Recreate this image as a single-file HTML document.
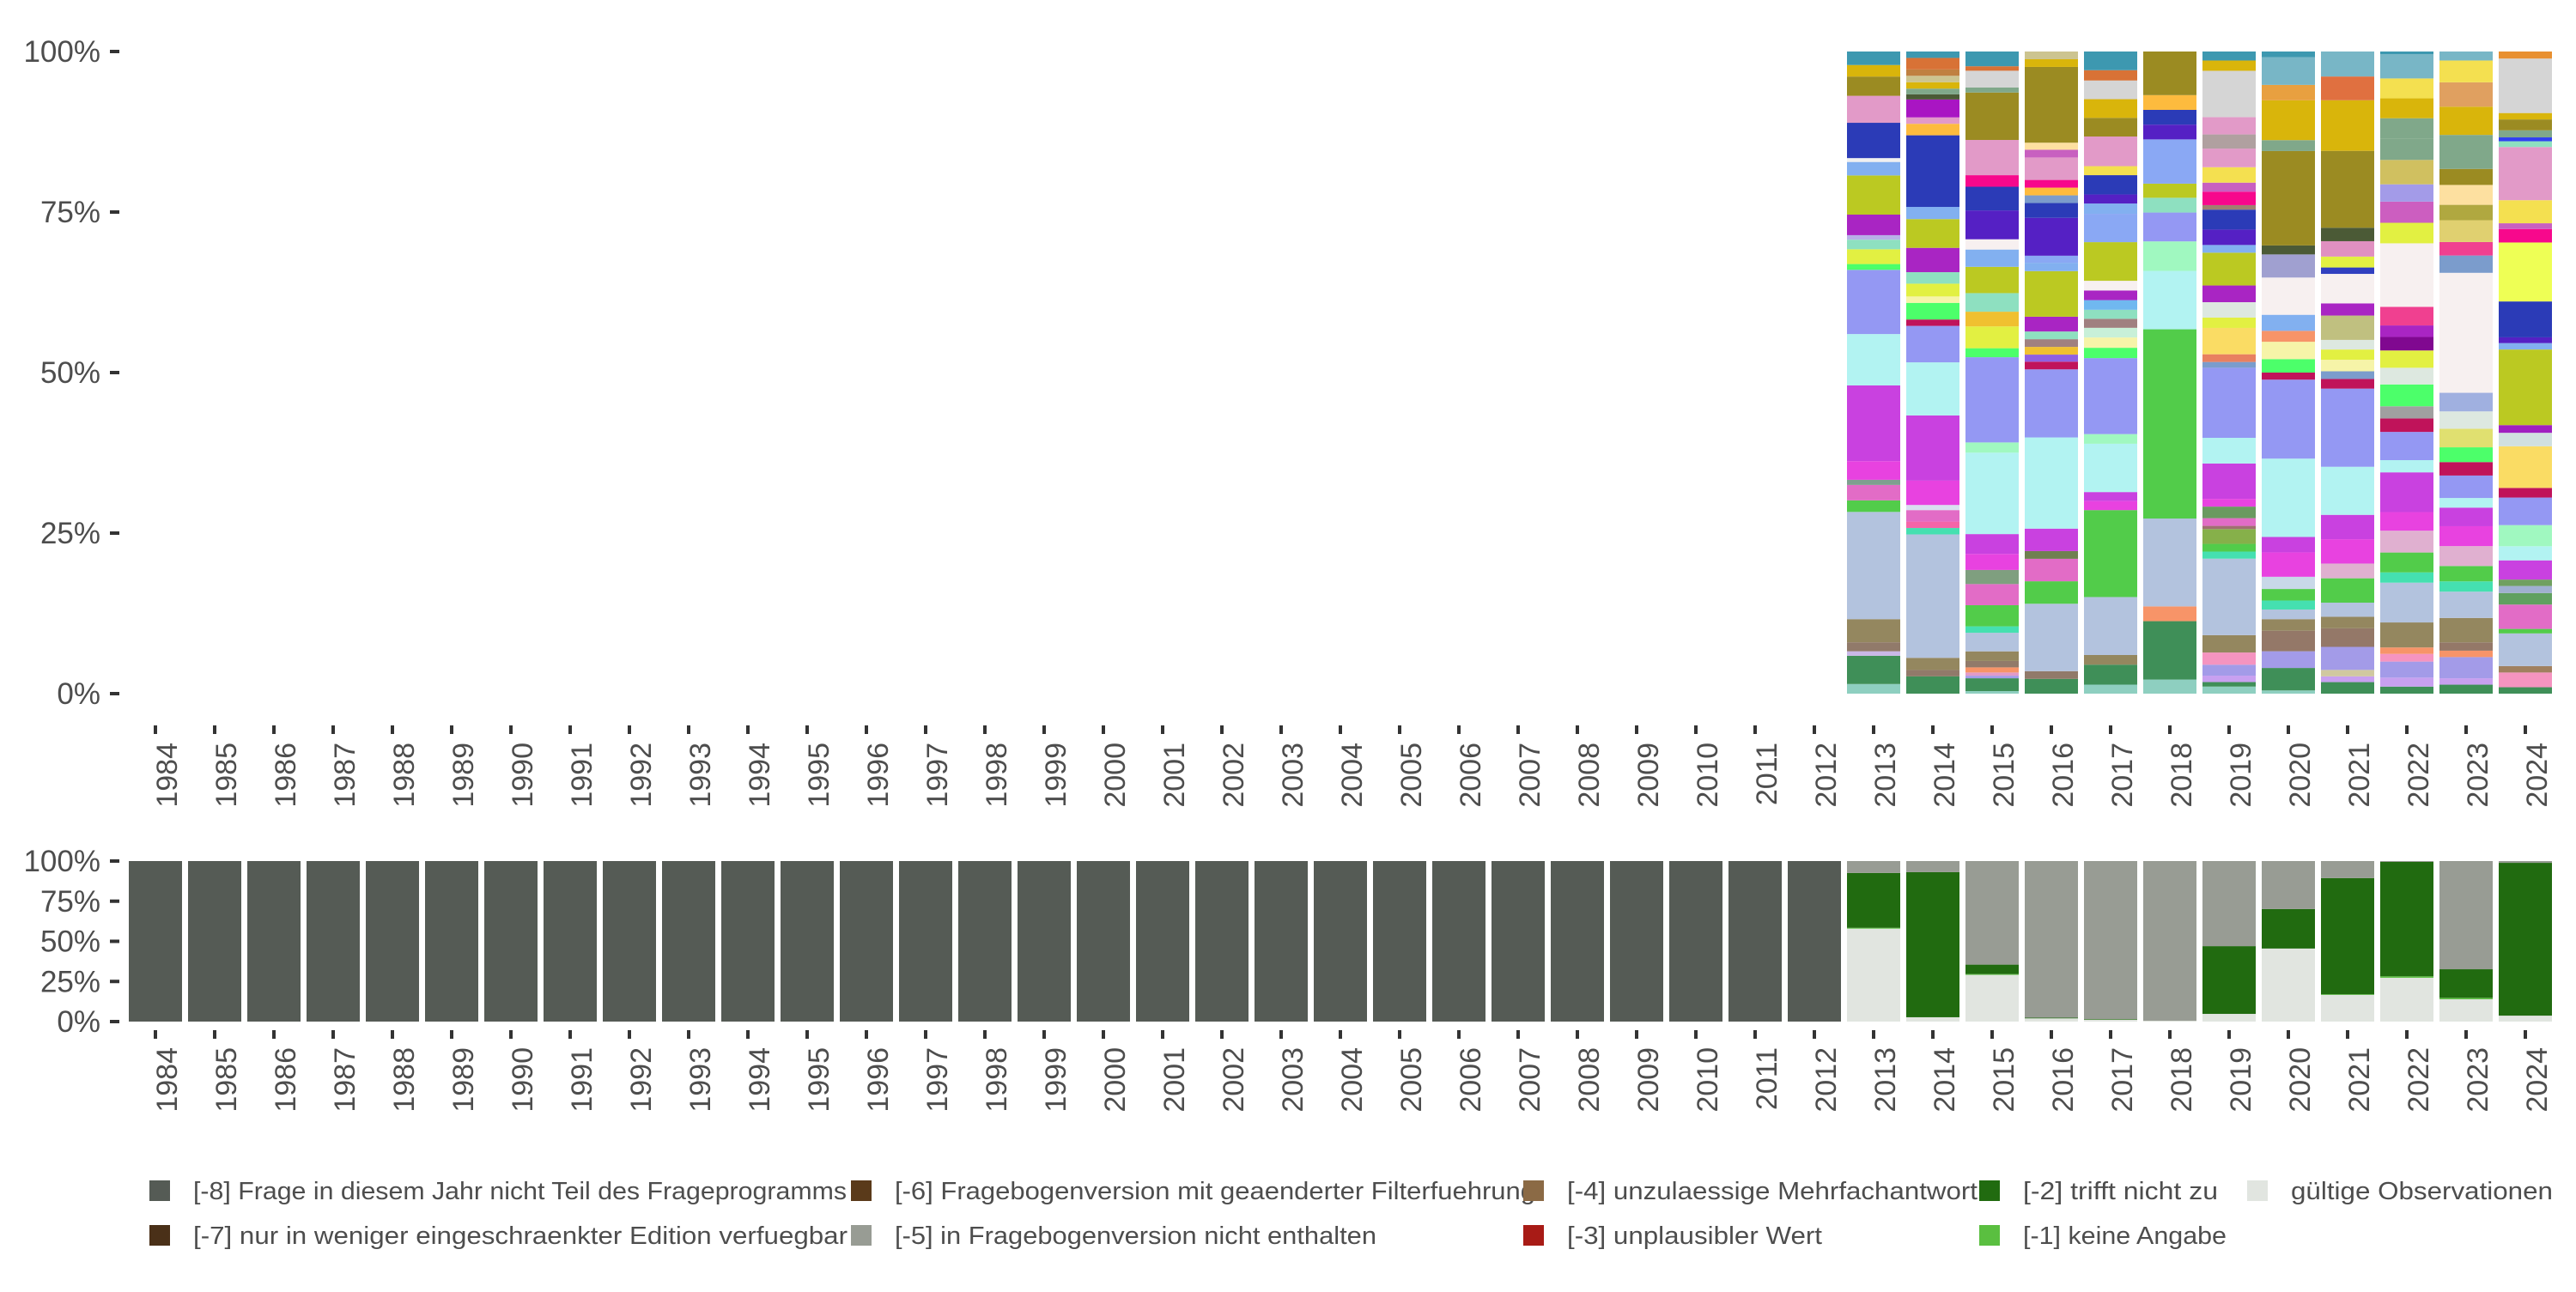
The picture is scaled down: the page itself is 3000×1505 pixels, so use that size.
<!DOCTYPE html>
<html><head><meta charset="utf-8"><style>
html,body{margin:0;padding:0;background:#fff;}
svg text{font-family:"Liberation Sans",sans-serif;fill:#4d4d4d;}
</style></head><body>
<svg id="chart" xmlns="http://www.w3.org/2000/svg" width="3000" height="1500" viewBox="0 0 3000 1500">
<rect width="3000" height="1500" fill="#fff"/>
<g id="top"></g>
<g id="bot"></g>
<g id="leg"></g>
</svg>
<script>
const years = [];
for (let y = 1984; y <= 2024; y++) years.push(y);
const yTicks = [0, 25, 50, 75, 100];
const yTickLabels = ["0%", "25%", "50%", "75%", "100%"];

const C = {tl:'#8ecfc0',gr:'#3f8f58',br:'#917a6a',kh:'#94875f',ls:'#b3c3de',lg:'#52cc4a',pk:'#e26cc6',mg:'#e842e0',pu:'#c941e0',cy:'#b2f3f2',pw:'#9498f3',gn:'#4cff6a',yg:'#e2f042',mt:'#8ee0c0',pv:'#a925c3',ol:'#bbc922',lb:'#82b0f0',bl:'#2b3bb7',pp:'#e29ac8',do:'#9b8b22',ye:'#d9b50b',te:'#3d98b0',or:'#fdbb3e',vi:'#5520c4',wh:'#f7f0f0',gy:'#d5d5d5',cr:'#c0135a',hp:'#f7088c',la:'#a39be8',sg:'#80a88a',tq:'#78b6c6',py:'#f4e050',yy:'#fadc64',ey:'#eeff55',sa:'#f79468',ms:'#a0f8c0',tg:'#45e0b0',st:'#7b9ccc',bg:'#fde0a0',dk:'#4b5a36'};

const topYears = [2013,2014,2015,2016,2017,2018,2019,2020,2021,2022,2023,2024];
const topValues2013 = [1.5,4.4,0.7,1.4,3.6,16.7,1.8,2.4,0.8,2.9,11.8,8.0,10.0,0.9,2.3,1.5,0.7,3.2,6.1,2.1,0.6,5.5,4.2,3.0,1.8,2.1];
const topValues2014 = [2.7,1,1.9,19.3,1,1,1.8,0.8,3.8,10.2,8.3,5.7,1,2.6,1,2,1.8,3.8,4.5,1.9,11.2,1.8,1,2.8,0.8,0.9,1,1,1,1.8,1];
const topValues2015 = [0.4,2,0.4,0.5,0.8,1,1.5,2.9,1,3.3,3.3,2.2,2.5,3.1,12.7,1.6,13.3,1.4,3.4,2.3,2.9,4.1,2.7,1.6,4.5,3.7,1.8,5.5,7.4,0.8,2.6,0.7,2.3];
const topValues2016 = [2.3,1.2,10.5,3.5,3.5,1.2,3.5,14.2,10.6,1.2,1.1,1.2,1.2,1.2,2.3,7.1,1.3,1.1,5.9,2.3,1.2,1.2,1.2,3.5,1.2,1.1,11.8,1.2,1.2];
const topValues2017 = [1.4,3.1,1.5,9.0,13.5,1.4,1.4,7.5,1.5,11.8,1.6,1.6,1.5,1.4,1.4,1.5,1.5,1.5,6.0,4.4,1.6,1.4,3.0,1.4,4.6,2.9,2.9,2.9,1.6,2.9];
const topValues2018 = [2.2,9.1,2.3,13.7,29.5,9.1,4.6,4.5,2.3,2.2,6.9,2.3,2.3,2.3,6.8];
const topValues2019 = [1.1,0.7,1.0,1.7,1.9,2.7,11.9,1.1,1.2,2.3,0.5,1.2,1.8,1.2,5.5,4.0,10.9,0.9,1.2,4.1,1.6,2.4,2.6,5.1,1.2,2.4,3.1,0.7,2.1,1.4,2.4,2.9,2.2,2.7,7.2,1.6,1.4];
const topValues2020 = [0.5,3.5,2.6,3.2,1.8,1.5,1.4,1.8,1.9,3.8,2.4,12.2,12.3,1.1,2.1,2.7,1.7,2.5,5.8,3.6,1.4,14.7,1.7,6.2,2.4,4.3,0.9];
const topValues2021 = [1.8,0.9,1.0,3.6,2.9,1.8,2.2,3.8,2.3,3.8,3.8,7.5,12.2,1.5,1.2,1.8,1.6,1.5,3.8,1.9,4.6,1.0,1.7,2.4,2.1,12.0,7.9,3.7,3.9];
const topValues2022 = [1.1,1.4,2.5,1.2,1.0,3.9,6.2,1.6,3.1,3.4,2.9,6.2,1.9,4.4,2.1,1.9,3.4,2.6,2.7,2.1,1.8,2.9,9.9,3.2,3.3,2.7,3.8,3.3,3.2,3.1,3.1,3.8,0.4];
const topValues2023 = [1.4,1.0,3.3,1.0,1.3,3.8,4.1,1.6,2.4,3.1,3.1,2.9,1.5,3.5,2.1,2.3,2.9,2.7,2.9,18.7,2.7,2.1,3.4,2.4,3.1,2.5,5.3,4.4,3.8,3.4,1.4];
const topValues2024 = [1.0,2.3,1.0,5.1,0.7,3.8,1.8,1.1,1.0,3.0,2.2,3.3,4.3,1.5,6.5,2.1,1.2,11.8,1.0,0.9,5.6,9.2,2.1,0.9,3.6,8.3,0.9,0.6,1.1,1.7,1.0,8.5,1.1];
const topValues = [topValues2013,topValues2014,topValues2015,topValues2016,topValues2017,topValues2018,topValues2019,topValues2020,topValues2021,topValues2022,topValues2023,topValues2024];

const topColors = [
['tl','gr','#c9b8e8','br','kh','ls','lg','pk','#7f9f8f','mg','pu','cy','pw','gn','yg','mt','#b8b0e8','pv','ol','lb','#f0f0f0','bl','pp','do','ye','te'],
['gr','br','kh','ls','tg','#f564a8','pk','#d8e0f0','mg','pu','cy','pw','cr','gn','#f6f4a8','yg','mt','pv','ol','lb','bl','or','pp','#a915c3','dk','sg','ye','#ccc490','#c08040','#d87236','te'],
['tl','gr','la','pp','sa','br','kh','ls','tg','lg','pk','#7f9f7f','mg','pu','cy','ms','pw','gn','yg','#f0c030','mt','ol','lb','wh','vi','bl','hp','pp','do','sg','gy','#d87236','te'],
['gr','br','ls','lg','pk','#708050','pu','cy','pw','cr','#9060e0','#f0c030','#a08080','mt','pv','ol','lb','#8aa8f4','vi','bl','st','or','hp','pp','#c860c0','bg','do','ye','#ccc490'],
['tl','gr','kh','ls','lg','mg','pu','cy','ms','pw','gn','#f6f4a8','#c8f0d8','#a08080','mt','#70b8f0','pv','wh','ol','#8aa8f4','lb','vi','bl','py','pp','do','ye','gy','#d87236','te'],
['tl','gr','sa','ls','lg','cy','ms','pw','mt','ol','#8aa8f4','vi','bl','or','do'],
['tl','gr','#c8a0f0','la','#f594c0','kh','ls','tg','lg','#86b04a','#a07070','pk','#6a9a60','mg','pu','cy','pw','st','#e88060','yy','yg','#dde8e0','pv','ol','lb','vi','bl','#a08070','hp','#c860c0','py','pp','#b0a0a0','pp','gy','ye','te'],
['tl','gr','la','#947868','kh','ls','tg','lg','#c8d8e8','mg','pu','cy','pw','cr','gn','#f6f4a8','sa','lb','wh','#a0a0d0','dk','do','sg','ye','#e8a040','tq','te'],
['gr','#c8a0f0','#d0c8a0','la','#947868','kh','ls','lg','#e0b0d0','mg','pu','cy','pw','cr','st','#f6f4a8','yg','#dde8e0','#c0c080','pv','wh','#3040c0','yg','#e090c0','dk','do','ye','#e07040','tq'],
['gr','#c8a0f0','la','#f594c0','sa','kh','ls','tg','lg','#e0b0d0','mg','pu','cy','pw','cr','#a0a0a0','gn','#dde8e0','yg','#800890','pv','#f04090','wh','yg','#cc5ec0','la','#d0c060','sg','sg','ye','py','tq','te'],
['gr','#c8a0f0','la','sa','#947868','kh','ls','tg','lg','#e0b0d0','mg','pu','cy','pw','cr','gn','#e0e070','#dde8e0','#a0b0e0','wh','#7b9ccc','#f04090','#e0d070','#b0a840','#fde0a0','do','sg','ye','#e0a060','py','tq'],
['gr','#f594c0','#a08060','ls','lg','pk','#60a060','#a0b0d0','#70a060','pu','cy','ms','pw','cr','yy','#d0e0e0','#a020c0','ol','lb','vi','bl','ey','hp','#c860c0','py','pp','mt','#3040f0','sg','do','ye','gy','#e89030']
];

// bottom panel: series bottom->top
const botSeries = ["gültige Observationen","[-1] keine Angabe","[-2] trifft nicht zu","[-5] in Fragebogenversion nicht enthalten","[-8] Frage in diesem Jahr nicht Teil des Frageprogramms"];
const botColors = ['#e1e5e0','#5abf40','#216b10','#989c94','#555b55'];
const gueltig = [0,0,0,0,0,0,0,0,0,0,0,0,0,0,0,0,0,0,0,0,0,0,0,0,0,0,0,0,0, 57.9,2.7,29.1,2.0,1.1,0.5,4.8,45.5,16.6,27.3,13.9,3.7];
const keineAngabe = [0,0,0,0,0,0,0,0,0,0,0,0,0,0,0,0,0,0,0,0,0,0,0,0,0,0,0,0,0, 0.5,0,0.5,0,0,0,0,0,0.4,0.9,0.9,0];
const trifftNicht = [0,0,0,0,0,0,0,0,0,0,0,0,0,0,0,0,0,0,0,0,0,0,0,0,0,0,0,0,0, 34.2,90.4,5.9,0.4,0.4,0,42.2,24.6,72.4,71.3,17.8,95.2];
const nichtEnthalten = [0,0,0,0,0,0,0,0,0,0,0,0,0,0,0,0,0,0,0,0,0,0,0,0,0,0,0,0,0, 7.4,6.9,64.5,97.6,98.5,99.5,53.0,29.9,10.6,0.5,67.4,1.1];
const nichtTeil = [100,100,100,100,100,100,100,100,100,100,100,100,100,100,100,100,100,100,100,100,100,100,100,100,100,100,100,100,100, 0,0,0,0,0,0,0,0,0,0,0,0];
const botValues = [gueltig, keineAngabe, trifftNicht, nichtEnthalten, nichtTeil];

const legendLabels = ["[-8] Frage in diesem Jahr nicht Teil des Frageprogramms","[-7] nur in weniger eingeschraenkter Edition verfuegbar","[-6] Fragebogenversion mit geaenderter Filterfuehrung","[-5] in Fragebogenversion nicht enthalten","[-4] unzulaessige Mehrfachantwort","[-3] unplausibler Wert","[-2] trifft nicht zu","[-1] keine Angabe","gültige Observationen"];
const legendColors = ['#555b55','#4a3018','#5a3a1a','#989c94','#8b6a45','#a81b16','#216b10','#5abf40','#e1e5e0'];
const legendWidths = [761,762,746,561,478,297,227,237,305];

const NS = "http://www.w3.org/2000/svg";
function mk(tag, attrs, parent){const e=document.createElementNS(NS,tag);for(const k in attrs)e.setAttribute(k,attrs[k]);parent.appendChild(e);return e;}
const BAND=69, X0=150, BW=62;
function xPos(i){return X0+i*BAND;}
function yTop(v){return 808-(v/100)*748;}
function yBot(v){return 1190-(v/100)*187;}

function axes(g, yf, tickY, labY){
  yTicks.forEach((t,i)=>{
    const tk=mk('rect',{x:128,y:yf(t)-2,width:11,height:4,fill:'#333'},g);
    
    
    const tx=mk('text',{x:117,y:yf(t)+12,'text-anchor':'end','font-size':35},g);
    tx.textContent=yTickLabels[i];
    
    
  });
  years.forEach((yr,i)=>{
    const cx=xPos(i)+BW/2;
    const tk=mk('rect',{x:cx-2,y:tickY,width:4,height:10,fill:'#333'},g);
    
    
    const tx=mk('text',{x:0,y:0,'text-anchor':'end','font-size':34,transform:`translate(${cx+25},${labY}) rotate(-90)`},g);
    tx.textContent=String(yr);
    
    
  });
}

const gTop=document.getElementById('top');
axes(gTop,yTop,845,865);
topYears.forEach((yr,j)=>{
  const i=years.indexOf(yr);
  const vals=topValues[j], cols=topColors[j];
  const tot=vals.reduce((a,b)=>a+b,0);
  let cum=0;
  vals.forEach((v,k)=>{
    const p0=cum/tot*100; cum+=v; const p1=cum/tot*100;
    const col=C[cols[k]]||cols[k];
    const r=mk('rect',{x:xPos(i),y:yTop(p1),width:BW,height:yTop(p0)-yTop(p1),fill:col},gTop);
    
    
  });
});

const gBot=document.getElementById('bot');
axes(gBot,yBot,1200,1220);
years.forEach((yr,i)=>{
  let cum=0;
  botValues.forEach((s,k)=>{
    const v=s[i]; if(!v) return;
    const p0=cum; cum+=v;
    const r=mk('rect',{x:xPos(i),y:yBot(cum),width:BW,height:yBot(p0)-yBot(cum),fill:botColors[k]},gBot);
    
    
  });
});

const gLeg=document.getElementById('leg');
const colSw=[174,991,1774,2305,2617];
legendLabels.forEach((lab,k)=>{
  const c=Math.floor(k/2), r=k%2;
  const cy=r===0?1387:1439;
  const g=mk('g',{},gLeg);
  
  
  mk('rect',{x:colSw[c],y:cy-12,width:24,height:24,fill:legendColors[k]},g);
  const t=mk('text',{x:colSw[c]+51,y:cy+10,'font-size':29,fill:'#1a1a1a',textLength:legendWidths[k],lengthAdjust:'spacingAndGlyphs'},g);
  t.textContent=lab;
});
</script>
</body></html>
